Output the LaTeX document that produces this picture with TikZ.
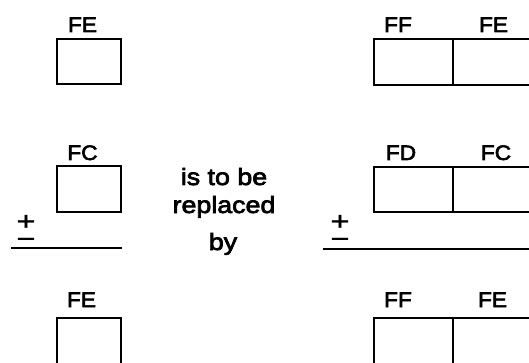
\documentclass[tikz,border=0pt]{standalone}
\usepackage{fontspec}
\setmainfont{Liberation Sans}
\newfontfamily\lblfont[FakeStretch=1.08,FakeBold=3]{Liberation Sans}
\newfontfamily\txtfont[FakeStretch=1.14,FakeBold=3]{Liberation Sans}
\newfontfamily\signfont[FakeStretch=1.25,FakeBold=1]{Liberation Sans}
\begin{document}
\begin{tikzpicture}[x=1pt,y=-1pt,
  cell/.style={draw, line width=2pt, rectangle, inner sep=0pt, outer sep=0pt},
  lbl/.style={anchor=base, inner sep=0pt, font=\lblfont\fontsize{21}{21}\selectfont},
  say/.style={anchor=base, inner sep=0pt, font=\txtfont\fontsize{23.5}{23.5}\selectfont},
  sign/.style={anchor=base, inner sep=0pt, font=\signfont\fontsize{26}{26}\selectfont},
  rule/.style={line width=2pt}]
\newcommand{\plusover}{\makebox[0pt]{+}\raisebox{-17.5pt}{\makebox[0pt]{−}}}
\useasboundingbox (0,0) rectangle (529,363);
\clip (0,0) rectangle (529,363);

% ---- left column: single cells ----
\node[cell, minimum width=64pt, minimum height=45pt] (lt) at (89,61.5) {};
\node[lbl] (ltl) at (82.5,32) {FE};

\node[cell, minimum width=63.5pt, minimum height=46pt] (lm) at (88.75,189) {};
\node[lbl] (lml) at (82.5,160) {FC};

\node[cell, minimum width=64pt, minimum height=62pt] (lb) at (89,349) {};
\node[lbl] (lbl1) at (81.5,307) {FE};

\node[sign] (lpm) at (26,230) {\plusover};
\coordinate (lruleA) at (11,248);
\coordinate (lruleB) at (122,248);
\draw[rule] (lruleA) -- (lruleB);

% ---- middle text ----
\node[say] (t1) at (224,185) {is to be};
\node[say] (t2) at (224,213) {replaced};
\node[say] (t3) at (223,250) {by};

% ---- right column: double cells ----
\node[cell, minimum width=79pt, minimum height=46pt] (rtA) at (413.5,62) {};
\node[cell, minimum width=80pt, minimum height=46pt] (rtB) at (493,62) {};
\node[lbl] (rtAl) at (398,32) {FF};
\node[lbl] (rtBl) at (493.5,32) {FE};

\node[cell, minimum width=79pt, minimum height=45pt] (rmA) at (413.5,189.5) {};
\node[cell, minimum width=80pt, minimum height=45pt] (rmB) at (493,189.5) {};
\node[lbl] (rmAl) at (401,160) {FD};
\node[lbl] (rmBl) at (496,160) {FC};

\node[cell, minimum width=79pt, minimum height=62pt] (rbA) at (413.5,349) {};
\node[cell, minimum width=80pt, minimum height=62pt] (rbB) at (493,349) {};
\node[lbl] (rbAl) at (398,307) {FF};
\node[lbl] (rbBl) at (492.5,307) {FE};

\node[sign] (rpm) at (340,230) {\plusover};
\coordinate (rruleA) at (323,249);
\coordinate (rruleB) at (535,249);
\draw[rule] (rruleA) -- (rruleB);
\end{tikzpicture}
\end{document}
